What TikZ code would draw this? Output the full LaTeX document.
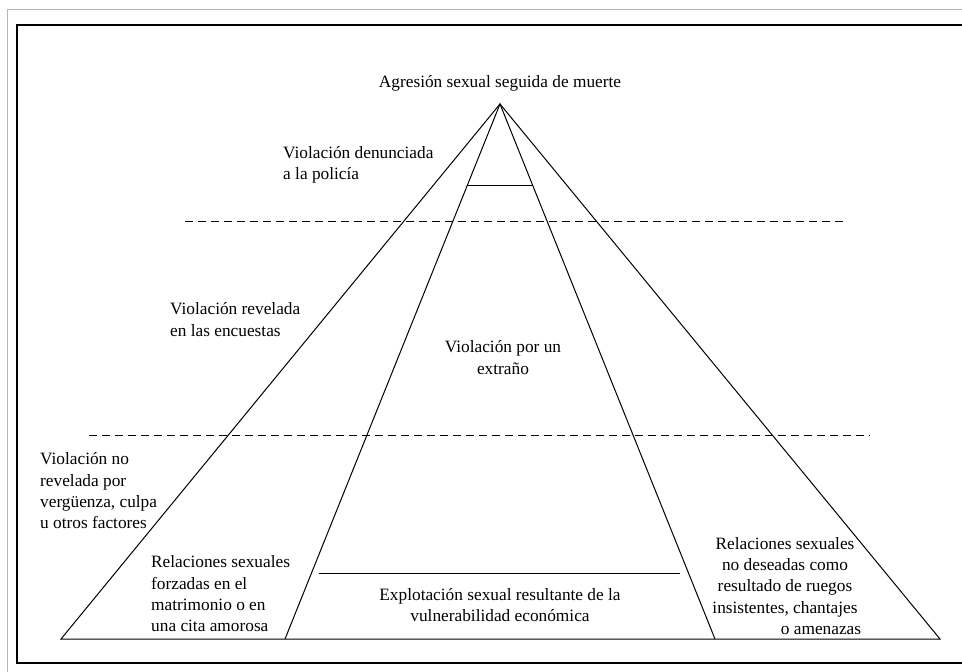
\documentclass[tikz,border=0pt]{standalone}
\usepackage{fontspec}
\setmainfont{Liberation Serif}
\tikzset{
  lbl/.style={inner sep=0pt, font=\fontsize{17.3}{21.3}\selectfont},
  cut/.style={dash pattern=on 8pt off 5pt, line width=0.9pt},
  edge/.style={line width=1pt}
}
\begin{document}
\begin{tikzpicture}[x=1pt,y=-1pt]
\useasboundingbox (0,0) rectangle (962,672);
\clip (0,0) rectangle (962,672);
\definecolor{frame}{RGB}{165,185,200}
% frames
\draw[frame, line width=1.6pt] (7.5,9.5) rectangle (990,700);
\draw[line width=1.6pt] (17,25) rectangle (990,663);
% pyramid corners
\coordinate (apex) at (500,104);
\coordinate (bl) at (61,639);
\coordinate (ibl) at (285,639);
\coordinate (ibr) at (715,639);
\coordinate (br) at (940,639);
\draw[edge] (bl) -- (apex) -- (br) -- cycle;
\draw[edge] (ibl) -- (apex) -- (ibr);
% inner bars
\coordinate (t1) at (467,185);
\coordinate (t2) at (532,185);
\coordinate (b1) at (319,573);
\coordinate (b2) at (680,573);
\draw[edge] (t1) -- (t2);
\draw[edge] (b1) -- (b2);
% dashed levels
\coordinate (d1a) at (185,221);
\coordinate (d1b) at (843,221);
\coordinate (d2a) at (89,435);
\coordinate (d2b) at (870,435);
\draw[cut] (d1a) -- (d1b);
\draw[cut] (d2a) -- (d2b);
% labels
\node[lbl] (muerte) at (500,83) {Agresión sexual seguida de muerte};
\node[lbl, anchor=west, align=left] (policia) at (283,164.5) {Violación denunciada\\a la policía};
\node[lbl, anchor=west, align=left] (encuestas) at (170,319.5) {Violación revelada\\en las encuestas};
\node[lbl, align=center] (extrano) at (503,357.5) {Violación por un\\extraño};
\node[lbl, anchor=west, align=left] (oculta) at (40,491) {Violación no\\revelada por\\vergüenza, culpa\\u otros factores};
\node[lbl, anchor=west, align=left] (forzadas) at (151,594) {Relaciones sexuales\\forzadas en el\\matrimonio o en\\una cita amorosa};
\node[lbl, align=center] (explotacion) at (500,605) {Explotación sexual resultante de la\\vulnerabilidad económica};
\node[lbl, align=center] (ruegos) at (785,586) {Relaciones sexuales\\no deseadas como\\resultado de ruegos\\insistentes, chantajes\\\hspace*{72pt}o amenazas};
\end{tikzpicture}
\end{document}
